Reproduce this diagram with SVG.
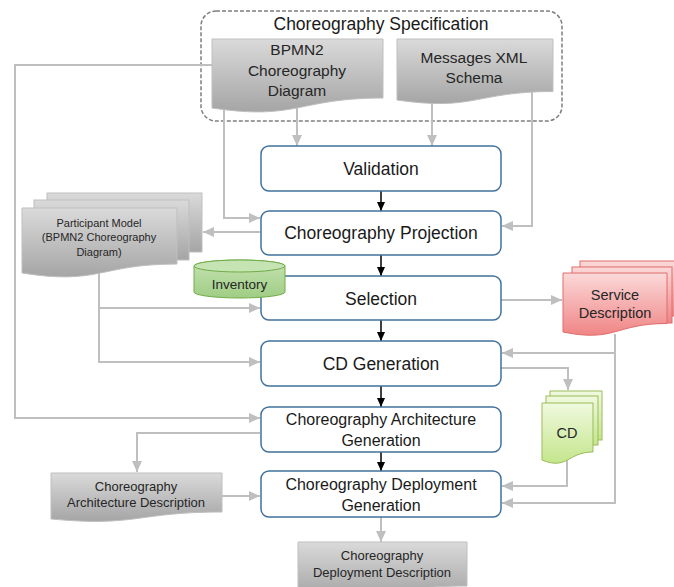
<svg xmlns="http://www.w3.org/2000/svg" width="674" height="587" viewBox="0 0 674 587">
<defs>
<linearGradient id="gGray" x1="0" y1="0" x2="0" y2="1"><stop offset="0" stop-color="#dadada"/><stop offset="1" stop-color="#a5a5a5"/></linearGradient>
<linearGradient id="gRed" x1="0" y1="0" x2="0" y2="1"><stop offset="0" stop-color="#fbd9d9"/><stop offset="1" stop-color="#f08585"/></linearGradient>
<linearGradient id="gGreen" x1="0" y1="0" x2="0" y2="1"><stop offset="0" stop-color="#f0f9df"/><stop offset="1" stop-color="#c4e68c"/></linearGradient>
<linearGradient id="gInv" x1="0" y1="0" x2="0" y2="1"><stop offset="0" stop-color="#c6e3b3"/><stop offset="1" stop-color="#9fcd84"/></linearGradient>
<marker id="ag" markerUnits="userSpaceOnUse" markerWidth="12" markerHeight="12" viewBox="0 0 12 12" refX="11" refY="6" orient="auto"><path d="M0,1 L11,6 L0,11 Z" fill="#bfbfbf"/></marker>
<marker id="ab" markerUnits="userSpaceOnUse" markerWidth="10" markerHeight="10" viewBox="0 0 10 10" refX="9" refY="5" orient="auto"><path d="M0,1 L9,5 L0,9 Z" fill="#000"/></marker>
</defs>
<style>
text{font-family:"Liberation Sans",Arial,sans-serif;text-anchor:middle;dominant-baseline:central;fill:#1a1a1a}
.box{fill:#fff;stroke:#41719c;stroke-width:1.5}
.bt{font-size:17.5px}
.bt2{font-size:16px}
.doc{fill:url(#gGray);stroke:#bfbfbf;stroke-width:1}
.red{fill:url(#gRed);stroke:#e06c6c;stroke-width:1}
.grn{fill:url(#gGreen);stroke:#9bbb59;stroke-width:1}
.gc{fill:none;stroke:#bfbfbf;stroke-width:2;marker-end:url(#ag)}
.gl{fill:none;stroke:#bfbfbf;stroke-width:2}
.bc{fill:none;stroke:#000;stroke-width:1.5;marker-end:url(#ab)}
.dt{fill:#262626}
</style>

<g id="spec">
<rect x="201" y="11" width="361" height="110" rx="15" fill="none" stroke="#7f7f7f" stroke-width="1.5" stroke-dasharray="4 2"/>
<text x="381" y="24" class="bt">Choreography Specification</text>
</g>

<g id="connectors">
<path class="gc" d="M212,65 H15 V418 H260"/>
<path class="gc" d="M297,106 V146"/>
<path class="gc" d="M432,97 V146"/>
<path class="gc" d="M224,108 V218 H260"/>
<path class="gc" d="M532,92 V226 H502"/>
<path class="gc" d="M260,232 H203"/>
<path class="gc" d="M99,273 V308 H260"/>
<path class="gc" d="M99,308 V362 H260"/>
<path class="gc" d="M501,300 H562"/>
<path class="gc" d="M615,334 V503 H502"/>
<path class="gc" d="M615,353 H502"/>
<path class="gc" d="M501,368 H568 V390"/>
<path class="gc" d="M567,460 V486 H502"/>
<path class="gc" d="M260,433 H137 V472"/>
<path class="gc" d="M222,496 H260"/>
<path class="gc" d="M381,517 V542"/>
<path class="bc" d="M381,191 V211"/>
<path class="bc" d="M381,255 V276"/>
<path class="bc" d="M381,320 V341"/>
<path class="bc" d="M381,386 V407"/>
<path class="bc" d="M381,452 V471"/>
</g>

<g id="bpmn2">
<path class="doc" d="M212,39 H383 V98 C297.5,98 297.5,120.9 212,108 Z"/>
<text x="297" y="49" font-size="15.5" class="dt">BPMN2</text>
<text x="297" y="70" font-size="15.5" class="dt">Choreography</text>
<text x="297" y="90" font-size="15.5" class="dt">Diagram</text>
</g>

<g id="messages">
<path class="doc" d="M397,39 H553 V91.5 C475,91.5 475,111.5 397,100 Z"/>
<text x="474" y="57" font-size="15.5" class="dt">Messages XML</text>
<text x="474" y="77" font-size="15.5" class="dt">Schema</text>
</g>

<g id="validation">
<rect class="box" x="261" y="146" width="240" height="45" rx="8"/>
<text x="381" y="169" class="bt">Validation</text>
</g>

<g id="projection">
<rect class="box" x="261" y="211" width="240" height="44" rx="8"/>
<text x="381" y="233" class="bt">Choreography Projection</text>
</g>

<g id="participant">
<rect class="doc" x="47" y="193" width="155" height="59"/>
<rect class="doc" x="34" y="200" width="155" height="60"/>
<path class="doc" d="M22,208 H177 V264 C99.5,264 99.5,285.5 22,273 Z"/>
<text x="99" y="223" font-size="11" class="dt">Participant Model</text>
<text x="99" y="237" font-size="11" class="dt">(BPMN2 Choreography</text>
<text x="99" y="252" font-size="11" class="dt">Diagram)</text>
</g>

<g id="selection">
<rect class="box" x="261" y="276" width="240" height="44" rx="8"/>
<text x="381" y="299" class="bt">Selection</text>
</g>

<g id="inventory">
<path d="M194,266 A45.5,6 0 0,1 285,266 V292 A45.5,6 0 0,1 194,292 Z" fill="url(#gInv)" stroke="#70ad47" stroke-width="1"/>
<ellipse cx="239.5" cy="266" rx="45.5" ry="6" fill="#c6e3b3" stroke="#70ad47" stroke-width="1"/>
<text x="239.5" y="284" font-size="13.5" class="dt">Inventory</text>
</g>

<g id="service">
<rect class="red" x="580" y="261" width="100" height="55"/>
<rect class="red" x="572" y="267" width="100" height="56"/>
<path class="red" d="M563,273 H667 V323.5 C615,323.5 615,342.7 563,332 Z"/>
<text x="615" y="295" font-size="14.5" class="dt">Service</text>
<text x="615" y="313" font-size="14.5" class="dt">Description</text>
</g>

<g id="cdgen">
<rect class="box" x="261" y="341" width="240" height="45" rx="8"/>
<text x="381" y="364" class="bt">CD Generation</text>
</g>

<g id="cd">
<rect class="grn" x="550" y="391" width="52" height="49"/>
<rect class="grn" x="546" y="396" width="52" height="49"/>
<path class="grn" d="M542,403 H593 V452 C567.5,452 567.5,470.5 542,460 Z"/>
<text x="567" y="433" font-size="14.5" class="dt">CD</text>
</g>

<g id="archgen">
<rect class="box" x="261" y="407" width="240" height="45" rx="8"/>
<text x="381" y="419" class="bt2">Choreography Architecture</text>
<text x="381" y="440" class="bt2">Generation</text>
</g>

<g id="archdesc">
<path class="doc" d="M51,473 H222 V512 C136.5,512 136.5,527.2 51,519 Z"/>
<text x="136" y="486" font-size="13" class="dt">Choreography</text>
<text x="136" y="502" font-size="13" class="dt">Architecture Description</text>
</g>

<g id="deploygen">
<rect class="box" x="261" y="471" width="240" height="46" rx="8"/>
<text x="381" y="484" class="bt2">Choreography Deployment</text>
<text x="381" y="505" class="bt2">Generation</text>
</g>

<g id="deploydesc">
<path class="doc" d="M298,542 H467 V586 C382.5,586 382.5,603 298,594 Z"/>
<text x="382" y="555" font-size="13" class="dt">Choreography</text>
<text x="382" y="572" font-size="13" class="dt">Deployment Description</text>
</g>
</svg>
